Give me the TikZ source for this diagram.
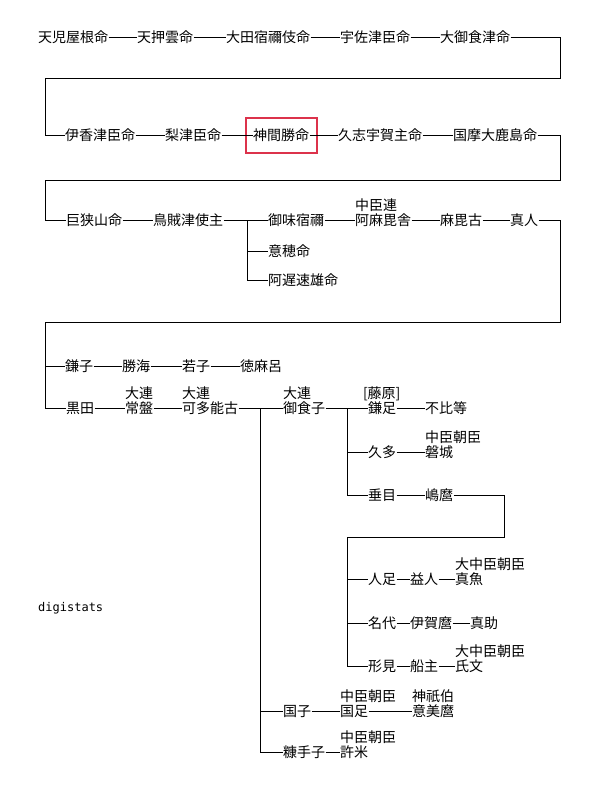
\documentclass[tikz,border=0pt]{standalone}
\usepackage{fontspec}
\usetikzlibrary{calc}
\newfontfamily\jpf{Noto Sans CJK JP}
\newfontfamily\monof{DejaVu Sans Mono}
\tikzset{
  jn/.style={anchor=west, inner xsep=0.3pt, inner ysep=0pt,
    font=\jpf\fontsize{14}{15}\selectfont, text height=12.3pt, text depth=1.7pt},
  ln/.style={line width=0.8pt, black},
  redbox/.style={draw={rgb,255:red,220;green,50;blue,75}, line width=1.8pt},
  stamp/.style={anchor=west, inner sep=0pt, font=\monof\fontsize{12}{13}\selectfont}
}
\begin{document}
\begin{tikzpicture}[x=1pt,y=-1pt]
\useasboundingbox (0,0) rectangle (603,812);
% row 1
\node[jn] (a1) at (37.5,37) {天児屋根命};
\node[jn] (a2) at (136.5,37) {天押雲命};
\node[jn] (a3) at (225.5,37) {大田宿禰伎命};
\node[jn] (a4) at (339.5,37) {宇佐津臣命};
\node[jn] (a5) at (439.5,37) {大御食津命};
\coordinate (c1) at (560,78);
\coordinate (c2) at (45,78);
% row 2
\node[jn] (b1) at (64.5,135) {伊香津臣命};
\node[jn] (b2) at (164.5,135) {梨津臣命};
\node[jn] (b3) at (252.5,135) {神間勝命};
\node[jn] (b4) at (337.5,135) {久志宇賀主命};
\node[jn] (b5) at (452.5,135) {国摩大鹿島命};
\coordinate (c3) at (560,180);
\coordinate (c4) at (45,180);
% row 3
\node[jn] (d1) at (65.5,220) {巨狭山命};
\node[jn] (d2) at (152.5,220) {鳥賊津使主};
\node[jn] (d3) at (267.5,220) {御味宿禰};
\node[jn] (d4) at (354.5,220) {阿麻毘舎};
\node[jn] (d4u) at (354.5,205) {中臣連};
\node[jn] (d5) at (439.5,220) {麻毘古};
\node[jn] (d6) at (509.5,220) {真人};
\node[jn] (d7) at (267.5,251) {意穂命};
\node[jn] (d8) at (267.5,280) {阿遅速雄命};
\coordinate (j1) at (247,220);
\coordinate (c5) at (560,322);
\coordinate (c6) at (45,322);
% row 4
\node[jn] (e1) at (64.5,366) {鎌子};
\node[jn] (e2) at (121.5,366) {勝海};
\node[jn] (e3) at (181.5,366) {若子};
\node[jn] (e4) at (239.5,366) {徳麻呂};
% row 5
\node[jn] (f1) at (65.5,408) {黒田};
\node[jn] (f2) at (124.5,408) {常盤};
\node[jn] (f2u) at (124.5,393) {大連};
\node[jn] (f3) at (181.5,408) {可多能古};
\node[jn] (f3u) at (181.5,393) {大連};
\node[jn] (f4) at (282.5,408) {御食子};
\node[jn] (f4u) at (282.5,393) {大連};
\node[jn] (f5) at (367.5,408) {鎌足};
\node[jn] (f5u) at (362.5,393) {[藤原]};
\node[jn] (f6) at (424.5,408) {不比等};
\coordinate (j2) at (260,408);
\coordinate (j3) at (347,408);
\node[jn] (g1) at (367.5,452) {久多};
\node[jn] (g2) at (424.5,452) {磐城};
\node[jn] (g2u) at (424.5,437) {中臣朝臣};
\node[jn] (h1) at (367.5,495) {垂目};
\node[jn] (h2) at (424.5,495) {嶋麿};
\coordinate (c7) at (504,537);
\coordinate (c8) at (347,537);
\node[jn] (k1) at (367.5,579) {人足};
\node[jn] (k1b) at (409.5,579) {益人};
\node[jn] (k1c) at (454.5,579) {真魚};
\node[jn] (k1u) at (454.5,564) {大中臣朝臣};
\node[jn] (k2) at (367.5,623) {名代};
\node[jn] (k2b) at (409.5,623) {伊賀麿};
\node[jn] (k2c) at (469.5,623) {真助};
\node[jn] (k3) at (367.5,666) {形見};
\node[jn] (k3b) at (409.5,666) {船主};
\node[jn] (k3c) at (454.5,666) {氏文};
\node[jn] (k3u) at (454.5,651) {大中臣朝臣};
\node[jn] (m1) at (282.5,711) {国子};
\node[jn] (m2) at (339.5,711) {国足};
\node[jn] (m2u) at (339.5,696) {中臣朝臣};
\node[jn] (m3) at (411.5,711) {意美麿};
\node[jn] (m3u) at (411.5,696) {神祇伯};
\node[jn] (n1) at (282.5,752) {糠手子};
\node[jn] (n2) at (339.5,752) {許米};
\node[jn] (n2u) at (339.5,737) {中臣朝臣};
\node[stamp] (ds) at (38,608) {digistats};
% highlight
\draw[redbox] ($(b3.center)+(-35,-17)$) rectangle ($(b3.center)+(36,18)$);
% connectors
\draw[ln] (a1.east) -- (a2.west);
\draw[ln] (a2.east) -- (a3.west);
\draw[ln] (a3.east) -- (a4.west);
\draw[ln] (a4.east) -- (a5.west);
\draw[ln] (a5.east) -| (c1) -- (c2) |- (b1.west);
\draw[ln] (b1.east) -- (b2.west);
\draw[ln] (b2.east) -- (b3.west);
\draw[ln] (b3.east) -- (b4.west);
\draw[ln] (b4.east) -- (b5.west);
\draw[ln] (b5.east) -| (c3) -- (c4) |- (d1.west);
\draw[ln] (d1.east) -- (d2.west);
\draw[ln] (d2.east) -- (d3.west);
\draw[ln] (j1) |- (d7.west);
\draw[ln] (j1) |- (d8.west);
\draw[ln] (d3.east) -- (d4.west);
\draw[ln] (d4.east) -- (d5.west);
\draw[ln] (d5.east) -- (d6.west);
\draw[ln] (d6.east) -| (c5) -- (c6) |- (f1.west);
\draw[ln] (c6) |- (e1.west);
\draw[ln] (e1.east) -- (e2.west);
\draw[ln] (e2.east) -- (e3.west);
\draw[ln] (e3.east) -- (e4.west);
\draw[ln] (f1.east) -- (f2.west);
\draw[ln] (f2.east) -- (f3.west);
\draw[ln] (f3.east) -- (f4.west);
\draw[ln] (j2) |- (m1.west);
\draw[ln] (j2) |- (n1.west);
\draw[ln] (f4.east) -- (f5.west);
\draw[ln] (j3) |- (g1.west);
\draw[ln] (j3) |- (h1.west);
\draw[ln] (f5.east) -- (f6.west);
\draw[ln] (g1.east) -- (g2.west);
\draw[ln] (h1.east) -- (h2.west);
\draw[ln] (h2.east) -| (c7) -- (c8) |- (k3.west);
\draw[ln] (c8) |- (k1.west);
\draw[ln] (c8) |- (k2.west);
\draw[ln] (k1.east) -- (k1b.west);
\draw[ln] (k1b.east) -- (k1c.west);
\draw[ln] (k2.east) -- (k2b.west);
\draw[ln] (k2b.east) -- (k2c.west);
\draw[ln] (k3.east) -- (k3b.west);
\draw[ln] (k3b.east) -- (k3c.west);
\draw[ln] (m1.east) -- (m2.west);
\draw[ln] (m2.east) -- (m3.west);
\draw[ln] (n1.east) -- (n2.west);
\end{tikzpicture}
\end{document}
